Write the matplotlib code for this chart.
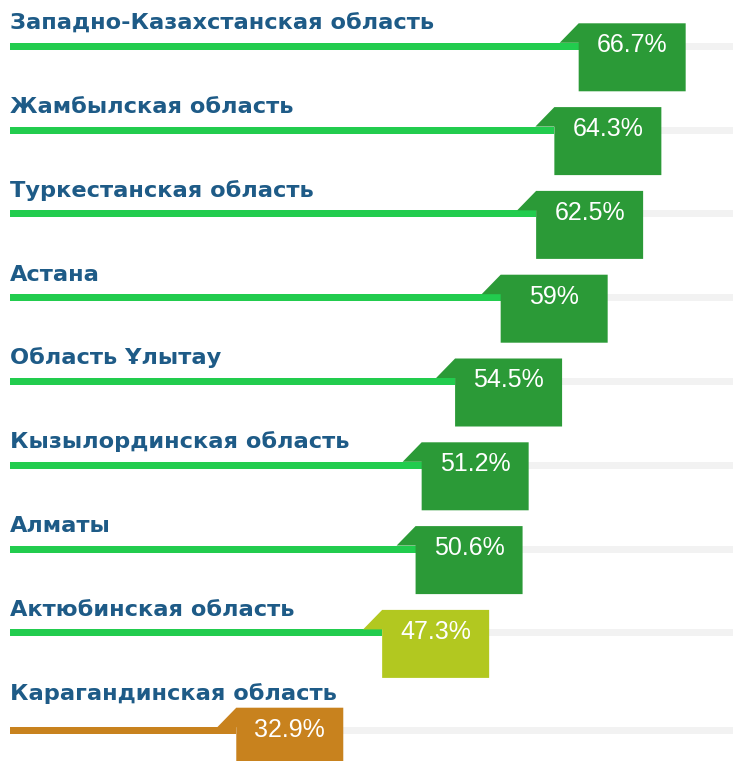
import matplotlib.pyplot as plt
from matplotlib.patches import Polygon, Rectangle

# data
regions = ["Западно-Казахстанская область", "Жамбылская область", "Туркестанская область",
           "Астана", "Область Ұлытау", "Кызылординская область", "Алматы",
           "Актюбинская область", "Карагандинская область"]
values = [66.7, 64.3, 62.5, 59, 54.5, 51.2, 50.6, 47.3, 32.9]
labels = ["66.7%", "64.3%", "62.5%", "59%", "54.5%", "51.2%", "50.6%", "47.3%", "32.9%"]
badge_colors = ["#2b9a37"] * 7 + ["#b2c820", "#c8821e"]
line_colors = ["#22cc4e"] * 8 + ["#c8821e"]

W, H = 733, 761
px_x = 10.13      # pixels per percent
px_y = 83.8       # pixels per row
x0, y0 = 10, 46.3 # where 0% and first row sit

fig = plt.figure(figsize=(W / 100, H / 100), dpi=100)
ax = fig.add_axes([0, 0, 1, 1])
ax.set_xlim(-x0 / px_x, (W - x0) / px_x)
ax.set_ylim((H - y0) / px_y, -y0 / px_y)
ax.axis("off")

def dx(p):
    return p / px_x

def dy(p):
    return p / px_y

for i, (name, v, lab) in enumerate(zip(regions, values, labels)):
    ax.text(0, i - dy(17), name, color="#1e5b87", fontsize=16.2, fontweight="bold",
            family="DejaVu Sans", ha="left", va="baseline", zorder=4)
    y = i
    if i == len(regions) - 1:
        y += dy(14)   # last bar sits a bit lower
    # grey track
    ax.add_patch(Rectangle((0, y - dy(3.5)), 200, dy(7), color="#f2f2f2", lw=0, zorder=1))
    left = v - dx(107)
    ax.add_patch(Rectangle((0, y - dy(3.5)), left, dy(7), color=line_colors[i], lw=0, zorder=2))
    pts = [(left - dx(19), y - dy(3.5)), (left, y - dy(23)), (v, y - dy(23)),
           (v, y + dy(45)), (left, y + dy(45)), (left, y - dy(3.5))]
    ax.add_patch(Polygon(pts, closed=True, color=badge_colors[i], lw=0, zorder=3))
    ax.text(left + dx(53.5), y + dy(6), lab, color="white", fontsize=18,
            family="Liberation Sans", ha="center", va="baseline", zorder=4)

fig.savefig("out.png", dpi=100)
